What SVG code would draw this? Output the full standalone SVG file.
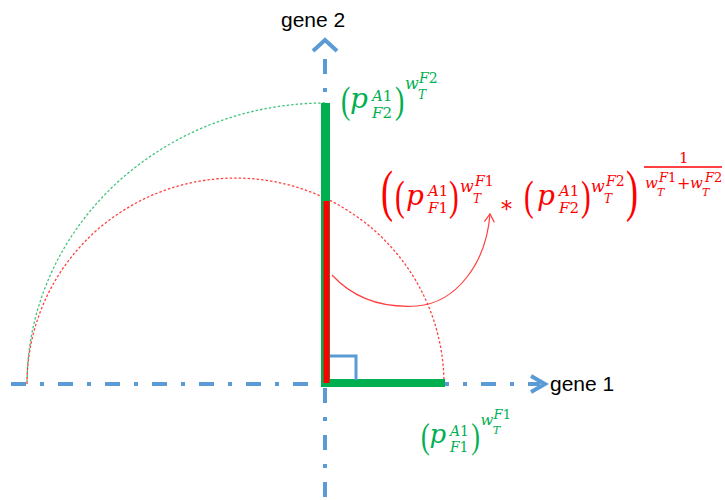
<svg xmlns="http://www.w3.org/2000/svg" width="725" height="500" viewBox="0 0 725 500">
<defs>
<style>
.axis{stroke:#5B9BD5;stroke-width:4;fill:none;stroke-dasharray:15 14 4 14}
.head{stroke:#5B9BD5;stroke-width:4;fill:none;stroke-linejoin:miter;stroke-linecap:butt}
.lbl{font-family:"Liberation Sans",Arial,sans-serif;font-size:21px;fill:#000}
.f{font-family:"DejaVu Serif","Liberation Serif",serif;font-style:italic}
.n{font-style:normal}
.pr{font-family:"Liberation Serif",serif;font-style:normal}
.g{fill:#00B050}
.r{fill:#FF0000}
.dotg{fill:none;stroke:#00B050;stroke-width:1.3;stroke-dasharray:2.5 2;opacity:0.75}
.dotr{fill:none;stroke:#FF0000;stroke-width:1.3;stroke-dasharray:2.5 2;opacity:0.75}
</style>
<marker id="arr" viewBox="0 0 12 12" refX="10" refY="6" markerWidth="12" markerHeight="12" markerUnits="userSpaceOnUse" orient="auto">
<polyline points="2,1 10,6 2,11" fill="none" stroke="#FF4040" stroke-width="1.2"/>
</marker>
</defs>
<rect width="725" height="500" fill="#fff"/>

<g id="axes">
<path class="axis" d="M11,384 H540"/>
<polyline class="head" points="531,376 545,384 531,392"/>
<path class="axis" d="M325,59 V500"/>
<polyline class="head" points="313,51 325,40 337,51"/>
</g>

<g id="arcs">
<path class="dotg" d="M325,103 A298,281 0 0 0 27,384"/>
<path class="dotr" d="M27,384 A208.5,206 0 0 1 444,384"/>
</g>

<g id="bars">
<rect x="321" y="103" width="9" height="284" fill="#00B050"/>
<rect x="322" y="379" width="123" height="8" fill="#00B050"/>
<rect x="323.5" y="201" width="6" height="182" fill="#FF0000"/>
<polyline points="330,356 356,356 356,380" fill="none" stroke="#5B9BD5" stroke-width="3"/>
</g>

<g id="connectors">
<path d="M332,275 C355,300 385,308 417,306 C455,303 486,265 490,214" fill="none" stroke="#FF4040" stroke-width="1.2" marker-end="url(#arr)"/>
</g>

<g id="label-gene1"><text class="lbl" x="550" y="391">gene 1</text></g>
<g id="label-gene2"><text class="lbl" x="281" y="27">gene 2</text></g>

<g id="formula-top" class="f g">
<text class="pr" transform="translate(341,113.4) scale(1,1.34)" font-size="28">(</text>
<text x="350" y="108" font-size="28">p</text>
<text x="372" y="101" font-size="15">A<tspan class="n">1</tspan></text>
<text x="372" y="118" font-size="15">F<tspan class="n">2</tspan></text>
<text class="pr" transform="translate(395,113.4) scale(1,1.34)" font-size="28">)</text>
<text x="405" y="89" font-size="16">w</text>
<text x="418" y="99" font-size="12">T</text>
<text x="419" y="83" font-size="14">F<tspan class="n">2</tspan></text>
</g>

<g id="formula-bottom" class="f g" transform="translate(422,424) scale(0.93) translate(-342,-88)">
<text class="pr" transform="translate(341,113.4) scale(1,1.34)" font-size="28">(</text>
<text x="350" y="108" font-size="28">p</text>
<text x="372" y="101" font-size="15">A<tspan class="n">1</tspan></text>
<text x="372" y="118" font-size="15">F<tspan class="n">1</tspan></text>
<text class="pr" transform="translate(395,113.4) scale(1,1.34)" font-size="28">)</text>
<text x="405" y="89" font-size="16">w</text>
<text x="418" y="99" font-size="12">T</text>
<text x="419" y="83" font-size="14">F<tspan class="n">1</tspan></text>
</g>

<g id="formula-red" class="f r">
<text class="pr" transform="translate(381,210) scale(1,1.56)" font-size="36">(</text>
<text class="pr" transform="translate(395,209.7) scale(1,1.42)" font-size="29">(</text>
<text x="406" y="205" font-size="28">p</text>
<text x="428" y="196" font-size="15">A<tspan class="n">1</tspan></text>
<text x="428" y="213" font-size="15">F<tspan class="n">1</tspan></text>
<text class="pr" transform="translate(449,209.7) scale(1,1.42)" font-size="29">)</text>
<text x="460" y="192" font-size="16">w</text>
<text x="473" y="203" font-size="12">T</text>
<text x="475" y="186" font-size="14">F<tspan class="n">1</tspan></text>
<text class="n" x="501" y="217" font-size="22">*</text>
<text class="pr" transform="translate(524,209.7) scale(1,1.42)" font-size="29">(</text>
<text x="537" y="205" font-size="28">p</text>
<text x="559" y="196" font-size="15">A<tspan class="n">1</tspan></text>
<text x="559" y="213" font-size="15">F<tspan class="n">2</tspan></text>
<text class="pr" transform="translate(581,209.7) scale(1,1.42)" font-size="29">)</text>
<text x="591" y="192" font-size="16">w</text>
<text x="604" y="203" font-size="12">T</text>
<text x="606" y="186" font-size="14">F<tspan class="n">2</tspan></text>
<text class="pr" transform="translate(626,210) scale(1,1.56)" font-size="36">)</text>
<text class="n" x="679" y="163" font-size="15">1</text>
<line x1="644" y1="167" x2="722" y2="167" stroke="#FF0000" stroke-width="1.5"/>
<text x="645" y="188" font-size="15">w</text>
<text x="657" y="196" font-size="11">T</text>
<text x="659" y="182" font-size="13">F<tspan class="n">1</tspan></text>
<text class="n" x="677" y="189" font-size="16">+</text>
<text x="690" y="188" font-size="15">w</text>
<text x="702" y="196" font-size="11">T</text>
<text x="705" y="182" font-size="13">F<tspan class="n">2</tspan></text>
</g>
</svg>
